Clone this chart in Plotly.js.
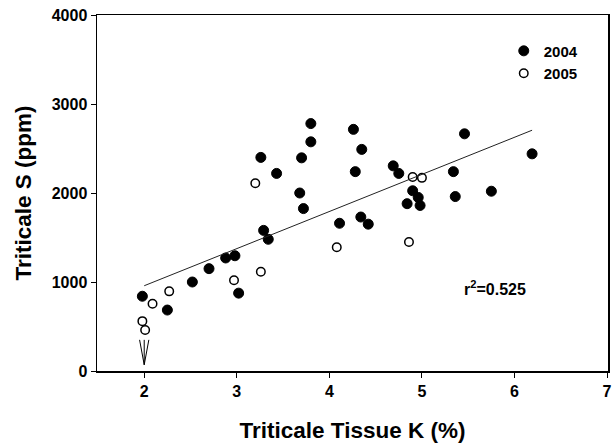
<!DOCTYPE html>
<html><head><meta charset="utf-8">
<script src="https://cdn.plot.ly/plotly-3.0.1.min.js"></script>
<style>html,body{margin:0;padding:0;background:#fff}#chart{width:613px;height:444px}</style>
</head><body><div id="chart"></div>
<script>
// 2004 (filled)
const k2004 = [1.98,2.25,2.52,2.70,2.88,2.98,3.02,3.26,3.29,3.34,3.43,3.68,3.70,3.72,3.80,3.80,4.11,4.26,4.28,4.35,4.34,4.42,4.69,4.75,4.84,4.90,4.96,4.98,5.34,5.36,5.46,5.75,6.19];
const s2004 = [840,685,1000,1150,1270,1295,875,2400,1580,1480,2220,2000,2395,1825,2575,2780,1660,2715,2240,2490,1730,1650,2305,2220,1880,2025,1950,1860,2240,1960,2665,2020,2440];
// 2005 (open)
const k2005 = [1.98,2.01,2.09,2.27,2.97,3.20,3.26,4.08,4.86,4.90,5.00];
const s2005 = [560,460,755,895,1020,2110,1115,1390,1450,2180,2170];
// regression line
const fitX = [2.0, 6.19];
const fitSlope = 417, fitIntercept = 124;
const fitY = fitX.map(x => fitIntercept + fitSlope * x);
const r2Text = 'r<sup>2</sup>=0.525';
const xTicks = [2,3,4,5,6,7];
const yTicks = [0,1000,2000,3000,4000];
// arrow at x = 2
const arrowX = 2, arrowTop = 350, arrowTip = 70, arrowHalf = 0.05;

const F = 'Liberation Sans, Arial, sans-serif';
const traces = [
  {x: k2004, y: s2004, mode: 'markers', type: 'scatter', name: '2004',
   marker: {color: '#000', size: 10, line: {color: '#000', width: 1}}},
  {x: k2005, y: s2005, mode: 'markers', type: 'scatter', name: '2005',
   marker: {color: '#fff', size: 8.5, line: {color: '#000', width: 1.5}}},
  {x: fitX, y: fitY, mode: 'lines', type: 'scatter', showlegend: false,
   line: {color: '#222', width: 1}}
];
const shapes = [
  {type: 'line', xref: 'x', yref: 'y', x0: arrowX, x1: arrowX, y0: arrowTop, y1: arrowTip, line: {color: '#000', width: 1}},
  {type: 'line', xref: 'x', yref: 'y', x0: arrowX - arrowHalf, x1: arrowX, y0: arrowTop, y1: arrowTip, line: {color: '#000', width: 1}},
  {type: 'line', xref: 'x', yref: 'y', x0: arrowX + arrowHalf, x1: arrowX, y0: arrowTop, y1: arrowTip, line: {color: '#000', width: 1}}
];
const layout = {
  width: 613, height: 444,
  margin: {l: 97, r: 5, t: 15, b: 73},
  paper_bgcolor: '#fff', plot_bgcolor: '#fff',
  font: {family: F, color: '#000', size: 16},
  showlegend: true,
  legend: {x: 0.796, y: 0.945, xanchor: 'left', yanchor: 'top', bgcolor: 'rgba(0,0,0,0)',
           font: {family: F, size: 15, weight: 700}, tracegroupgap: 0},
  xaxis: {range: [1.49, 7.01], tickvals: xTicks, ticktext: xTicks.map(String),
          showgrid: false, zeroline: false, showline: true, linecolor: '#000', linewidth: 1.5,
          mirror: true, ticks: 'outside', ticklen: 5, tickcolor: '#000',
          tickfont: {family: F, size: 16, weight: 700},
          title: {text: 'Triticale Tissue K (%)', font: {family: F, size: 22.5, weight: 700}, standoff: 23}},
  yaxis: {range: [0, 4000], tickvals: yTicks, ticktext: yTicks.map(String),
          showgrid: false, zeroline: false, showline: true, linecolor: '#000', linewidth: 1.5,
          mirror: true, ticks: 'outside', ticklen: 5, tickcolor: '#000',
          tickfont: {family: F, size: 16, weight: 700},
          title: {text: 'Triticale S (ppm)', font: {family: F, size: 22.5, weight: 700}, standoff: 14}},
  shapes: shapes,
  annotations: [
    {x: 5.79, y: 930, xref: 'x', yref: 'y', text: r2Text, showarrow: false,
     font: {family: F, size: 16, weight: 700}}
  ]
};
Plotly.newPlot('chart', traces, layout, {displayModeBar: false, staticPlot: true});
</script>
</body></html>
